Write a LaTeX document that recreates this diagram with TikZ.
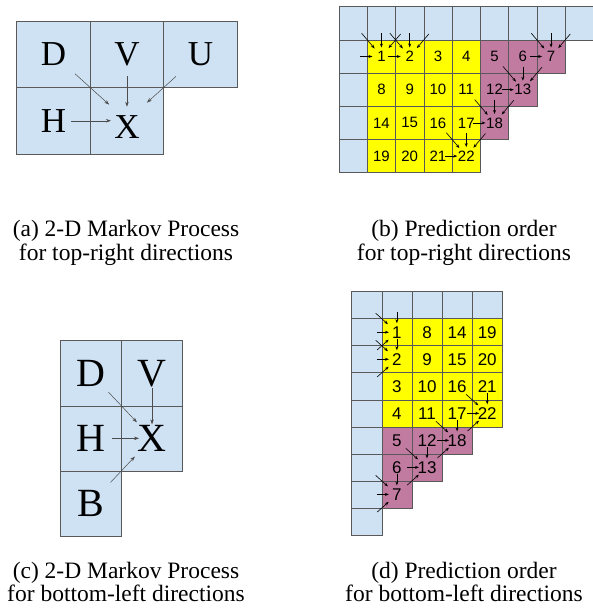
\documentclass[tikz,border=0pt]{standalone}
\usepackage{fontspec}
\setmainfont{Liberation Serif}
\newfontfamily\numfont{Liberation Sans}
\usetikzlibrary{arrows.meta,positioning}
\definecolor{cellblue}{HTML}{CFE2F3}
\definecolor{cellyellow}{HTML}{FFFF00}
\definecolor{cellpink}{HTML}{C27BA0}
\definecolor{gridgray}{HTML}{595959}
\tikzset{
  gridcell/.style={draw=gridgray, line width=0.6pt, inner sep=0pt},
  acell/.style={gridcell, fill=cellblue, minimum width=73.5pt, minimum height=66.5pt,
    font=\fontsize{35}{35}\selectfont},
  ccell/.style={gridcell, fill=cellblue, minimum width=61.35pt, minimum height=65.1pt,
    font=\fontsize{40}{40}\selectfont},
  bcell/.style={gridcell, minimum width=28.28pt, minimum height=33.2pt,
    font=\numfont\fontsize{15}{15}\selectfont},
  dcell/.style={gridcell, minimum width=30.12pt, minimum height=27.03pt,
    font=\numfont\fontsize{17}{17}\selectfont},
  markov/.style={-{Stealth[length=5pt,width=3.5pt]}, line width=0.5pt, draw=gray!60!black},
  order/.style={-{Stealth[length=4pt,width=3pt]}, line width=0.6pt, draw=black},
  caption/.style={font=\fontsize{23.5}{23.3}\selectfont, align=center, anchor=base}
}
\begin{document}
\begin{tikzpicture}[x=1pt,y=-1pt]
\useasboundingbox (0,0) rectangle (593,608);
% (a) neighbours for top-right directions
\node[acell] (a-d) at (53.45,54.25) {D};
\node[acell] (a-v) at (126.95,54.25) {V};
\node[acell] (a-u) at (200.45,54.25) {U};
\node[acell] (a-h) at (53.45,120.75) {H};
\node[acell] (a-x) at (126.95,120.75) {\raisebox{-6pt}[\height][\depth]{X}};
\draw[markov, shorten <=29pt, shorten >=24pt] (a-d.center) -- (a-x.center);
\draw[markov, shorten <=22pt, shorten >=14pt] (a-v.center) -- (a-x.center);
\draw[markov, shorten <=33pt, shorten >=27pt] (a-u.center) -- (a-x.center);
\draw[markov, shorten <=18pt, shorten >=16pt] (a-h.center) -- (a-x.center);
\node[caption] (cap-a) at (126,260) {(a) 2-D Markov Process\\for top-right directions};
% (b) prediction order, top-right
\foreach \c in {0,...,8}
  \node[bcell, fill=cellblue] (b-0-\c) at ({353.14+28.28*\c},23.3) {};
\foreach \r in {1,...,4}
  \node[bcell, fill=cellblue] (b-\r-0) at (353.14,{23.3+33.2*\r}) {};
\foreach \r/\c/\n in {1/1/1,1/2/2,1/3/3,1/4/4,2/1/8,2/2/9,2/3/10,2/4/11,
                      3/1/14,3/2/15,3/3/16,3/4/17,4/1/19,4/2/20,4/3/21,4/4/22}
  \node[bcell, fill=cellyellow] (b-\r-\c) at ({353.14+28.28*\c},{23.3+33.2*\r}) {\n};
\foreach \r/\c/\n in {1/5/5,1/6/6,1/7/7,2/5/12,2/6/13,3/5/18}
  \node[bcell, fill=cellpink] (b-\r-\c) at ({353.14+28.28*\c},{23.3+33.2*\r}) {\n};
\foreach \r/\c in {1/1,1/2,1/7,2/6,3/5,4/4}{
  \pgfmathtruncatemacro{\prow}{\r-1}
  \pgfmathtruncatemacro{\pcol}{\c-1}
  \pgfmathtruncatemacro{\ncol}{\c+1}
  \draw[order, shorten <=13pt, shorten >=10.5pt] (b-\prow-\pcol.center) -- (b-\r-\c.center);
  \draw[order, shorten <=10pt, shorten >=9pt] (b-\prow-\c.center) -- (b-\r-\c.center);
  \draw[order, shorten <=14pt, shorten >=11pt] (b-\prow-\ncol.center) -- (b-\r-\c.center);
  \draw[order, shorten <=7pt, shorten >=9pt] (b-\r-\pcol.center) -- (b-\r-\c.center);
}
\node[caption] (cap-b) at (464,260) {(b) Prediction order\\for top-right directions};
% (c) neighbours for bottom-left directions
\node[ccell] (c-d) at (90.68,373.25) {D};
\node[ccell] (c-v) at (152.03,373.25) {V};
\node[ccell] (c-h) at (90.68,438.35) {H};
\node[ccell] (c-x) at (152.03,438.35) {X};
\node[ccell] (c-b) at (90.68,503.45) {B};
\draw[markov, shorten <=26pt, shorten >=22pt] (c-d.center) -- (c-x.center);
\draw[markov, shorten <=15pt, shorten >=14pt] (c-v.center) -- (c-x.center);
\draw[markov, shorten <=21pt, shorten >=13pt] (c-h.center) -- (c-x.center);
\draw[markov, shorten <=29pt, shorten >=25pt] (c-b.center) -- (c-x.center);
\node[caption] (cap-c) at (126,601.7) {(c) 2-D Markov Process\\for bottom-left directions};
% (d) prediction order, bottom-left
\foreach \c in {0,...,4}
  \node[dcell, fill=cellblue] (d-0-\c) at ({366.76+30.12*\c},305.2) {};
\foreach \r in {1,...,8}
  \node[dcell, fill=cellblue] (d-\r-0) at (366.76,{305.2+27.03*\r}) {};
\foreach \r/\c/\n in {1/1/1,1/2/8,1/3/14,1/4/19,2/1/2,2/2/9,2/3/15,2/4/20,
                      3/1/3,3/2/10,3/3/16,3/4/21,4/1/4,4/2/11,4/3/17,4/4/22}
  \node[dcell, fill=cellyellow] (d-\r-\c) at ({366.76+30.12*\c},{305.2+27.03*\r}) {\n};
\foreach \r/\c/\n in {5/1/5,5/2/12,5/3/18,6/1/6,6/2/13,7/1/7}
  \node[dcell, fill=cellpink] (d-\r-\c) at ({366.76+30.12*\c},{305.2+27.03*\r}) {\n};
\foreach \r/\c in {1/1,2/1,7/1,6/2,5/3,4/4}{
  \pgfmathtruncatemacro{\prow}{\r-1}
  \pgfmathtruncatemacro{\nrow}{\r+1}
  \pgfmathtruncatemacro{\pcol}{\c-1}
  \draw[order, shorten <=12pt, shorten >=12pt] (d-\prow-\pcol.center) -- (d-\r-\c.center);
  \draw[order, shorten <=6.5pt, shorten >=9pt] (d-\prow-\c.center) -- (d-\r-\c.center);
  \draw[order, shorten <=10pt, shorten >=8pt] (d-\r-\pcol.center) -- (d-\r-\c.center);
  \draw[order, shorten <=14pt, shorten >=11pt] (d-\nrow-\pcol.center) -- (d-\r-\c.center);
}
\node[caption] (cap-d) at (464,601.7) {(d) Prediction order\\for bottom-left directions};
\end{tikzpicture}
\end{document}
